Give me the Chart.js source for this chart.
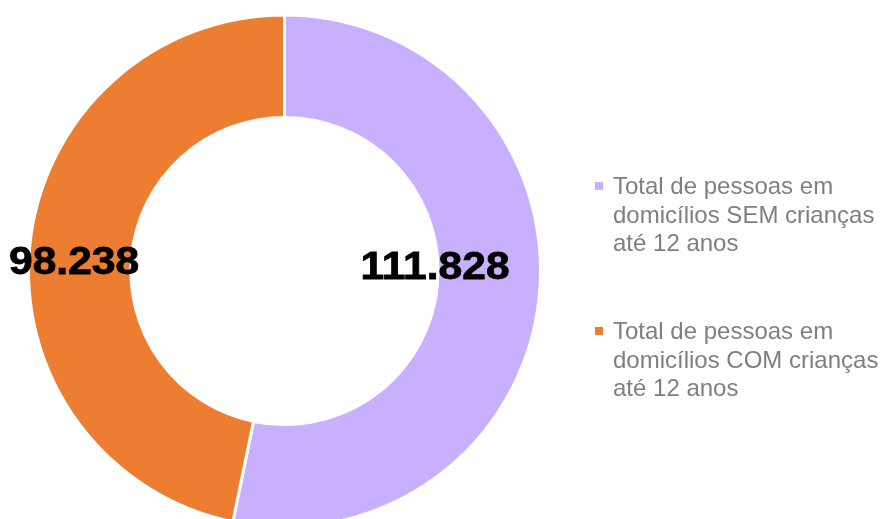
<!DOCTYPE html>
<html>
<head>
<meta charset="utf-8">
<script src="https://cdn.jsdelivr.net/npm/chart.js@4"></script>
<style>
  html, body { margin: 0; padding: 0; background: #fff; overflow: hidden; }
  #wrap { position: relative; width: 884px; height: 519px; overflow: hidden; }
  #box { position: absolute; left: 0; top: 0; width: 884px; height: 542px; }
  #legend { position: absolute; left: 595px; top: 172px; font-family: "Liberation Sans", Arial, sans-serif; font-size: 24px; line-height: 28.5px; color: #7f7f7f; }
  .item { position: relative; padding-left: 18px; margin-bottom: 59.5px; white-space: nowrap; }
  .mark { position: absolute; left: 0; top: 10px; width: 8px; height: 8px; }
</style>
</head>
<body>
<div id="wrap">
  <div id="box"><canvas id="chart"></canvas></div>
  <div id="legend"></div>
</div>
<script>
const categories = [
  ["Total de pessoas em", "domicílios SEM crianças", "até 12 anos"],
  ["Total de pessoas em", "domicílios COM crianças", "até 12 anos"]
];
const values = [111828, 98238];
const valueLabels = ["111.828", "98.238"];
const colors = ["#c9b0fe", "#ed7d31"];

// baseline-centre spot of each number, relative to centre and outer radius
const labelSpots = [{ rx: 0.588, ry: 0.03 }, { rx: -0.822, ry: 0.012 }];

const numberLabels = {
  id: "numberLabels",
  afterDatasetsDraw(chart) {
    const ctx = chart.ctx;
    const arcs = chart.getDatasetMeta(0).data;
    arcs.forEach((arc, i) => {
      const r = arc.outerRadius;
      ctx.save();
      ctx.translate(arc.x + labelSpots[i].rx * r, arc.y + labelSpots[i].ry * r);
      ctx.scale(1.12, 1); // the original digits are drawn a bit wide
      ctx.font = "bold 38px 'Liberation Sans', Arial, sans-serif";
      ctx.fillStyle = "#000";
      ctx.strokeStyle = "#000";
      ctx.lineWidth = 0.8;
      ctx.textAlign = "center";
      ctx.textBaseline = "alphabetic";
      ctx.fillText(valueLabels[i], 0, 0);
      ctx.strokeText(valueLabels[i], 0, 0);
      ctx.restore();
    });
  }
};

new Chart(document.getElementById("chart"), {
  type: "doughnut",
  data: {
    labels: categories,
    datasets: [{
      data: values,
      backgroundColor: colors,
      borderColor: "#fff",
      borderWidth: 3,
      hoverOffset: 0
    }]
  },
  options: {
    responsive: true,
    maintainAspectRatio: false,
    animation: false,
    cutout: "60%",
    layout: { padding: { left: 27, top: 13, right: 342, bottom: 13 } },
    plugins: {
      legend: { display: false },
      tooltip: { enabled: false }
    }
  },
  plugins: [numberLabels]
});

const legend = document.getElementById("legend");
categories.forEach((lines, i) => {
  const item = document.createElement("div");
  item.className = "item";
  const mark = document.createElement("span");
  mark.className = "mark";
  mark.style.background = colors[i];
  item.appendChild(mark);
  lines.forEach(t => {
    const row = document.createElement("div");
    row.textContent = t;
    item.appendChild(row);
  });
  legend.appendChild(item);
});
</script>
</body>
</html>
